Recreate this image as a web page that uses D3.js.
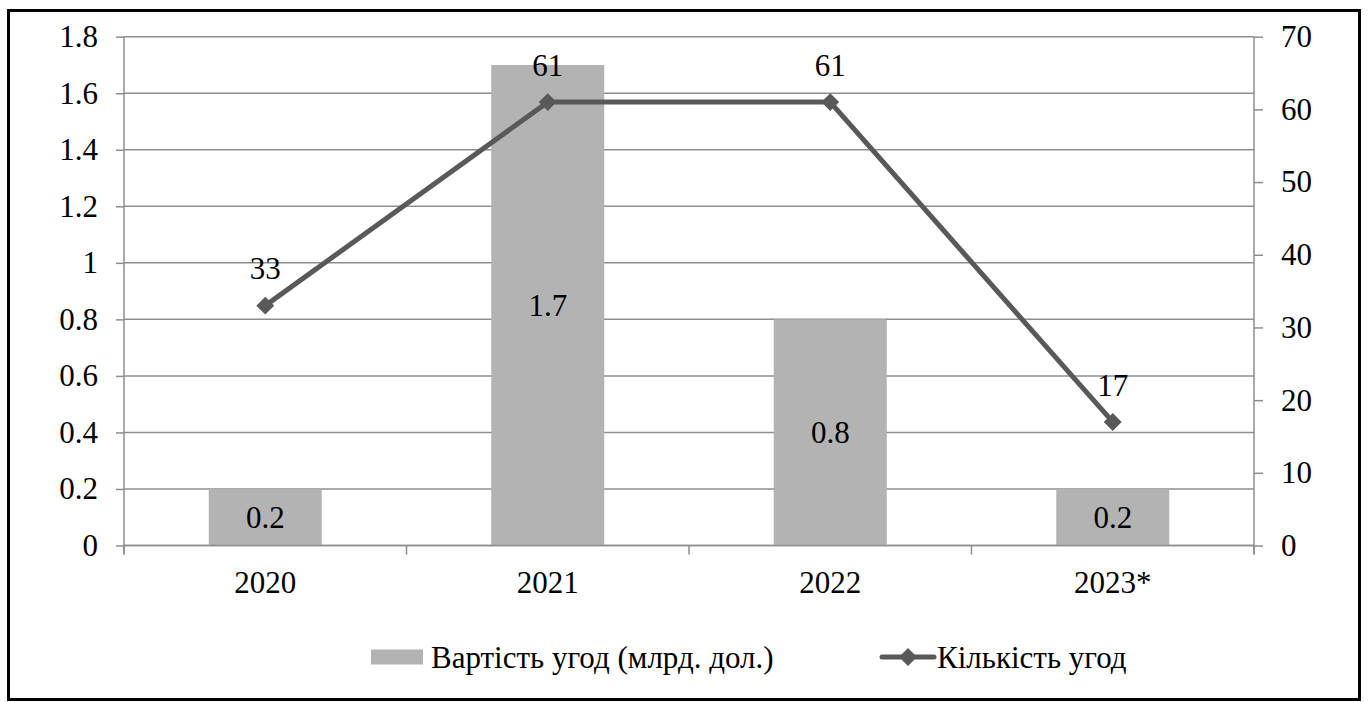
<!DOCTYPE html>
<html>
<head>
<meta charset="utf-8">
<script src="https://cdn.jsdelivr.net/npm/d3@7"></script>
<style>
  html, body { margin: 0; padding: 0; background: #fff; }
  svg { display: block; }
</style>
</head>
<body>
<svg id="chart" width="1368" height="702"></svg>
<script>
// Deal data by year
const years = ["2020", "2021", "2022", "2023*"];
const dealValue = [0.2, 1.7, 0.8, 0.2];      // billion USD, left axis
const dealCount = [33, 61, 61, 17];          // number of deals, right axis
const leftTicks = [0, 0.2, 0.4, 0.6, 0.8, 1, 1.2, 1.4, 1.6, 1.8];
const rightTicks = [0, 10, 20, 30, 40, 50, 60, 70];
const legendLabels = ["Вартість угод (млрд. дол.)", "Кількість угод"];

const FONT = "'Liberation Serif', 'Times New Roman', serif";
const plot = { left: 124, right: 1254, top: 36.7, bottom: 545.5 };
const fontSize = 31;
const gridColor = "#8e8e8e";
const barColor = "#b3b3b3";
const lineColor = "#595959";

const svg = d3.select("#chart");

// outer frame
svg.append("rect")
  .attr("x", 8.5).attr("y", 10.5)
  .attr("width", 1351).attr("height", 689)
  .attr("fill", "none").attr("stroke", "#000").attr("stroke-width", 3);

const x = d3.scaleBand().domain(years).range([plot.left, plot.right]).paddingInner(0.6).paddingOuter(0.3);
const xOuter = d3.scaleBand().domain(years).range([plot.left, plot.right]);
const yL = d3.scaleLinear().domain([0, 1.8]).range([plot.bottom, plot.top]);
const yR = d3.scaleLinear().domain([0, 70]).range([plot.bottom, plot.top]);

// horizontal gridlines
svg.append("g").selectAll("line").data(leftTicks).join("line")
  .attr("x1", plot.left).attr("x2", plot.right)
  .attr("y1", d => yL(d)).attr("y2", d => yL(d))
  .attr("stroke", gridColor).attr("stroke-width", 1.5);

// bars
svg.append("g").selectAll("rect").data(years).join("rect")
  .attr("x", d => x(d)).attr("width", x.bandwidth())
  .attr("y", (d, i) => yL(dealValue[i]))
  .attr("height", (d, i) => yL(0) - yL(dealValue[i]))
  .attr("fill", barColor);

// left axis
const gL = svg.append("g").attr("transform", `translate(${plot.left},0)`)
  .call(d3.axisLeft(yL).tickValues(leftTicks).tickFormat(d => String(d)).tickSize(8).tickPadding(18));
// right axis
const gR = svg.append("g").attr("transform", `translate(${plot.right},0)`)
  .call(d3.axisRight(yR).tickValues(rightTicks).tickFormat(d => String(d)).tickSize(9).tickPadding(18));
// bottom axis: ticks at category boundaries
const gB = svg.append("g").attr("transform", `translate(0,${plot.bottom})`)
  .call(d3.axisBottom(xOuter).tickSize(0).tickPadding(25));
gB.append("g").selectAll("line")
  .data([plot.left, ...years.map(d => xOuter(d) + xOuter.bandwidth())])
  .join("line")
  .attr("x1", d => d).attr("x2", d => d).attr("y1", 0).attr("y2", 9)
  .attr("stroke", gridColor).attr("stroke-width", 1.5);

[gL, gR, gB].forEach(g => {
  g.attr("font-family", FONT).attr("font-size", fontSize);
  g.selectAll(".domain").attr("stroke", gridColor).attr("stroke-width", 1.5);
  g.selectAll(".tick line").attr("stroke", gridColor).attr("stroke-width", 1.5);
  g.selectAll("text").attr("fill", "#000");
});
gL.select(".domain").attr("d", `M0,${plot.top}V${plot.bottom + 9}`);
gR.select(".domain").attr("d", `M0,${plot.top}V${plot.bottom + 9}`);
gB.select(".domain").attr("d", `M${plot.left},0H${plot.right}`);

// bar value labels, centred in the bar
svg.append("g").selectAll("text").data(years).join("text")
  .attr("x", d => x(d) + x.bandwidth() / 2)
  .attr("y", (d, i) => (yL(dealValue[i]) + yL(0)) / 2)
  .attr("dy", "0.35em")
  .attr("text-anchor", "middle")
  .text((d, i) => String(dealValue[i]));

// deal count line
const cx = d => xOuter(d) + xOuter.bandwidth() / 2;
const line = d3.line().x((d, i) => cx(years[i])).y(d => yR(d));
svg.append("path").datum(dealCount)
  .attr("d", line).attr("fill", "none")
  .attr("stroke", lineColor).attr("stroke-width", 5).attr("stroke-linejoin", "round");

const diamond = d3.symbol().type(d3.symbolSquare).size(160);
svg.append("g").selectAll("path").data(dealCount).join("path")
  .attr("d", diamond)
  .attr("transform", (d, i) => `translate(${cx(years[i])},${yR(d)}) rotate(45)`)
  .attr("fill", lineColor);

svg.append("g").selectAll("text").data(dealCount).join("text")
  .attr("x", (d, i) => cx(years[i]))
  .attr("y", d => yR(d) - 37)
  .attr("dy", "0.35em")
  .attr("text-anchor", "middle")
  .text(d => String(d));

// legend
const legY = 657;
svg.append("rect").attr("x", 371).attr("y", legY - 7.5).attr("width", 52).attr("height", 15).attr("fill", barColor);
svg.append("text").attr("x", 431).attr("y", legY).attr("dy", "0.35em").text(legendLabels[0]);
svg.append("line").attr("x1", 882).attr("x2", 934).attr("y1", legY).attr("y2", legY)
  .attr("stroke", lineColor).attr("stroke-width", 5).attr("stroke-linecap", "round");
svg.append("path").attr("d", diamond).attr("transform", `translate(908,${legY}) rotate(45)`).attr("fill", lineColor);
svg.append("text").attr("x", 937).attr("y", legY).attr("dy", "0.35em").text(legendLabels[1]);

// common text styling
svg.selectAll("text")
  .style("font-family", FONT)
  .style("font-size", fontSize + "px")
  .style("fill", "#000");
</script>
</body>
</html>
